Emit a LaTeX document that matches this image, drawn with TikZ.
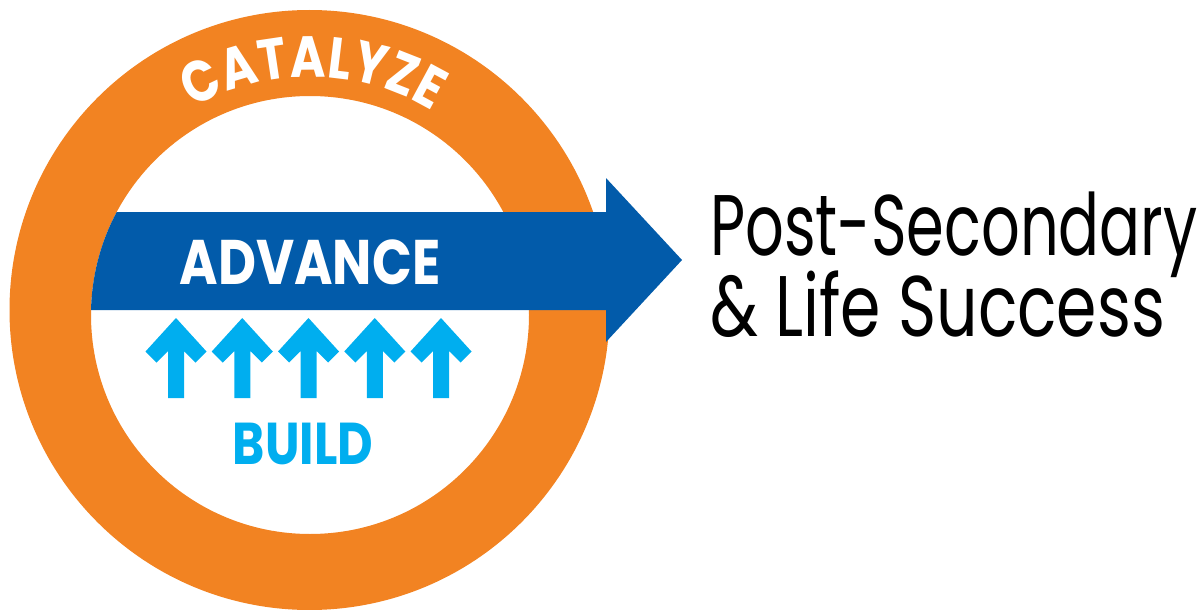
\documentclass[tikz,border=0pt]{standalone}
\usepackage{fontspec}
\usetikzlibrary{decorations.text}
\newfontfamily\tagfont{Poppins}[FakeStretch=0.83]
\newfontfamily\goalfont{Poppins}[FakeStretch=0.705]
\newfontfamily\goalfontb{Poppins}[FakeStretch=0.755]
\definecolor{ringorange}{RGB}{242,131,34}
\definecolor{advblue}{RGB}{2,91,170}
\definecolor{buildblue}{RGB}{0,174,239}

\begin{document}
\begin{tikzpicture}[x=1pt,y=-1pt,
    tag/.style={inner sep=0pt,font=\tagfont\bfseries\fontsize{#1}{#1}\selectfont},
    goal/.style={inner sep=0pt,anchor=base west,font=#1\fontsize{86}{86}\selectfont}]
  \useasboundingbox (0,0) rectangle (1203,610);
  % ring
  \fill[ringorange,even odd rule] (309.5,310) circle (300) (310,315) circle (219);
  \path[decorate,decoration={text along path,text align={fit to path},
      text={|\tagfont\bfseries\fontsize{58}{58}\selectfont\color{white}|CATALYZE}}]
    (310,311) ++(240:234) arc[start angle=240,end angle=301.5,radius=234];
  % big arrow
  \fill[advblue] (606,212) -- (116.7,212) arc[start angle=208.06,end angle=181.31,radius=219]
    -- (606,310) -- (606,342) -- (682,260) -- (606,178) -- cycle;
  \node[tag=63,text=white] (advance) at (310,262) {ADVANCE};
  % small arrows
  \foreach \cx in {176,242.25,308.5,374.75,441}
    \fill[buildblue] (\cx,318) -- ++(-30.5,33.5) -- ++(11,11) -- ++(11.5,-11.5) -- ++(0,47)
      -- ++(16,0) -- ++(0,-47) -- ++(11.5,11.5) -- ++(11,-11) -- cycle;
  \node[tag=59,text=buildblue] (build) at (303,443.5) {BUILD};
  \node[goal=\goalfont] (post) at (710,255) {Post-Secondary};
  \node[goal=\goalfontb] (life) at (710,336) {\& Life Success};
\end{tikzpicture}
\end{document}
